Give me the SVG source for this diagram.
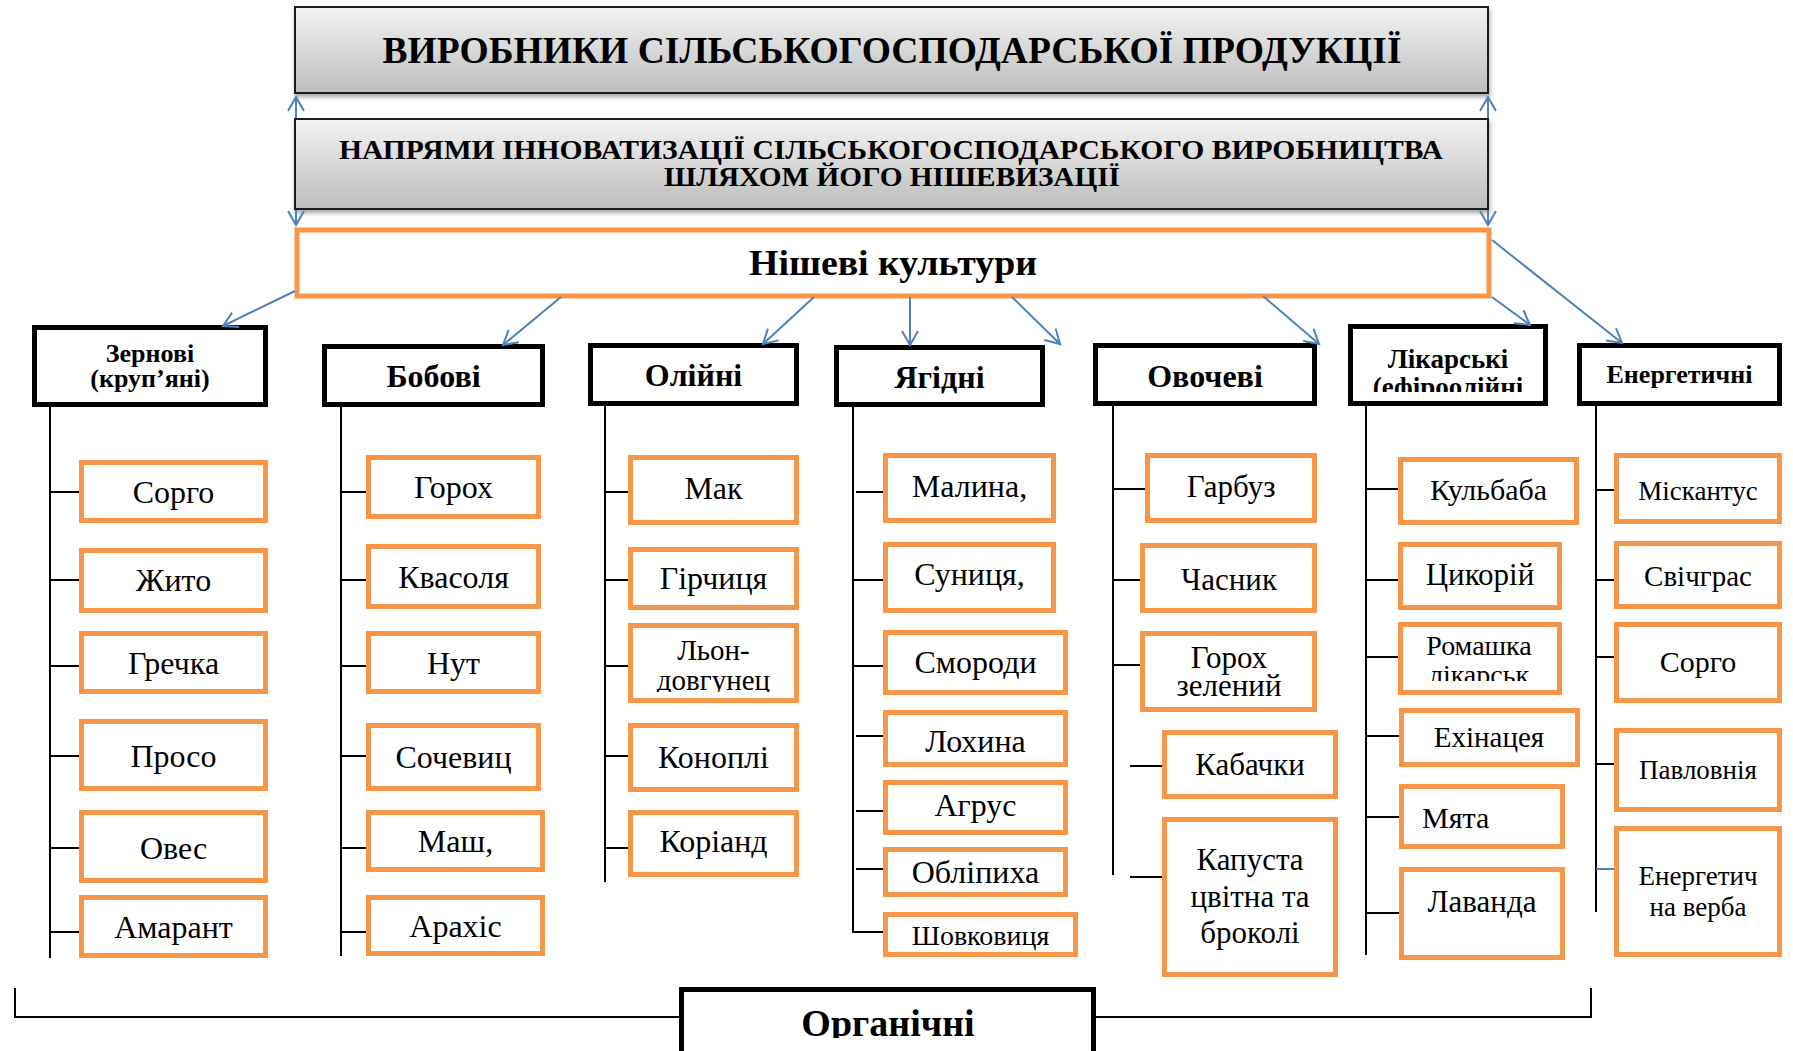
<svg xmlns="http://www.w3.org/2000/svg" width="1793" height="1051" viewBox="0 0 1793 1051">
<style>
text{font-family:"Liberation Serif","Times New Roman",serif;fill:#000;text-anchor:middle}
.b{font-weight:bold}
.gray{fill:url(#gg);stroke:#1a1a1a;stroke-width:2;filter:url(#sh)}
.nish{fill:#fff;stroke:#f79646;stroke-width:5}
.cat{fill:#fff;stroke:#000;stroke-width:5}
.item{fill:#fff;stroke:#f79646;stroke-width:5}
.ln{stroke:#000;stroke-width:2;fill:none}
.blu{stroke:#4f81bd;stroke-width:2;fill:none}
.arr{stroke:#4f81bd;stroke-width:2;fill:none;marker-end:url(#ah)}
.i32{font-size:32px}
.i31{font-size:31px}
.i30{font-size:30px}
.i29{font-size:29px}
.i28{font-size:28px}
.i27{font-size:27px}
</style>
<defs>
<linearGradient id="gg" x1="0" y1="0" x2="0" y2="1">
<stop offset="0" stop-color="#f3f3f3"/>
<stop offset="1" stop-color="#bdbdbd"/>
</linearGradient>
<filter id="sh" x="-5%" y="-20%" width="110%" height="150%">
<feDropShadow dx="1" dy="3" stdDeviation="2" flood-color="#000" flood-opacity="0.35"/>
</filter>
<marker id="ah" markerUnits="userSpaceOnUse" markerWidth="20" markerHeight="20" refX="15" refY="9" orient="auto">
<path d="M1,1 L15,9 L1,17" fill="none" stroke="#4f81bd" stroke-width="2"/>
</marker>
<clipPath id="cLik"><rect x="1350" y="326" width="196" height="66"/></clipPath>
<clipPath id="cLon"><rect x="630" y="625" width="168" height="67"/></clipPath>
<clipPath id="cRom"><rect x="1400" y="624" width="160" height="57"/></clipPath>
<clipPath id="cOrg"><rect x="684" y="990" width="408" height="48"/></clipPath>
</defs>

<g id="producers">
<rect class="gray" x="295" y="7" width="1193" height="86"/>
<text class="b" x="892" y="63" font-size="38" textLength="1019" lengthAdjust="spacingAndGlyphs">ВИРОБНИКИ СІЛЬСЬКОГОСПОДАРСЬКОЇ ПРОДУКЦІЇ</text>
</g>
<g id="directions">
<rect class="gray" x="295" y="119" width="1193" height="90"/>
<text class="b" x="891" y="159" font-size="28" textLength="1104" lengthAdjust="spacingAndGlyphs">НАПРЯМИ ІННОВАТИЗАЦІЇ СІЛЬСЬКОГОСПОДАРСЬКОГО ВИРОБНИЦТВА</text>
<text class="b" x="892" y="186" font-size="28" textLength="456" lengthAdjust="spacingAndGlyphs">ШЛЯХОМ ЙОГО НІШЕВИЗАЦІЇ</text>
</g>
<g id="niche">
<rect class="nish" x="297" y="230" width="1192" height="66"/>
<text class="b" x="893" y="275" font-size="35" textLength="288" lengthAdjust="spacingAndGlyphs">Нішеві культури</text>
</g>

<g id="cat-grain">
<rect class="cat" x="34.5" y="327.5" width="231" height="77"/>
<text class="b" x="150" y="362" font-size="26">Зернові</text>
<text class="b" x="150" y="387" font-size="26">(круп’яні)</text>
</g>
<g id="cat-legume">
<rect class="cat" x="324.5" y="346.5" width="218" height="58"/>
<text class="b" x="433.5" y="387" font-size="32">Бобові</text>
</g>
<g id="cat-oil">
<rect class="cat" x="590.5" y="345.5" width="206" height="58"/>
<text class="b" x="693.5" y="386" font-size="32">Олійні</text>
</g>
<g id="cat-berry">
<rect class="cat" x="836.5" y="347.5" width="206" height="57"/>
<text class="b" x="939.5" y="388" font-size="32">Ягідні</text>
</g>
<g id="cat-veg">
<rect class="cat" x="1095.5" y="345.5" width="219" height="58"/>
<text class="b" x="1205" y="387" font-size="32">Овочеві</text>
</g>
<g id="cat-med">
<rect class="cat" x="1350.5" y="326.5" width="195" height="77"/>
<g clip-path="url(#cLik)">
<text class="b" x="1448" y="368" font-size="27">Лікарські</text>
<text class="b" x="1448" y="396" font-size="27">(ефіроолійні</text>
</g>
</g>
<g id="cat-energy">
<rect class="cat" x="1579.5" y="345.5" width="200" height="58"/>
<text class="b" x="1679.5" y="383" font-size="26">Енергетичні</text>
</g>

<g id="connectors">
<line class="arr" x1="296" y1="118" x2="296" y2="97"/>
<line class="arr" x1="1488" y1="118" x2="1488" y2="97"/>
<line class="arr" x1="296" y1="210" x2="296" y2="225"/>
<line class="arr" x1="1488" y1="210" x2="1488" y2="225"/>
<line class="arr" x1="295" y1="291" x2="223" y2="326"/>
<line class="arr" x1="561" y1="297" x2="503" y2="345"/>
<line class="arr" x1="814" y1="297" x2="763" y2="344"/>
<line class="arr" x1="910" y1="297" x2="910" y2="345"/>
<line class="arr" x1="1012" y1="297" x2="1060" y2="344"/>
<line class="arr" x1="1263" y1="296" x2="1319" y2="344"/>
<line class="arr" x1="1492" y1="297" x2="1530" y2="325"/>
<line class="arr" x1="1492" y1="240" x2="1622" y2="343"/>

<path class="ln" d="M50,407V958M50,492H79M50,580H79M50,666H79M50,756H79M50,848H79M50,932H79"/>
<path class="ln" d="M341,407V956M341,492H366M341,580H366M341,666H366M341,756H366M341,848H366M341,932H366"/>
<path class="ln" d="M605,406V882M605,492H629M605,580H629M605,666H629M605,756H629M605,848H629"/>
<path class="ln" d="M853,407V932H883M856,492H883M853,580H883M853,666H883M856,736H883M856,811H883M856,869H883"/>
<path class="ln" d="M1113,406V875M1113,489H1145M1113,580H1141M1113,665H1141M1130,766H1162M1130,877H1162"/>
<path class="ln" d="M1366,406V955M1366,489H1399M1366,580H1399M1366,657H1399M1366,736H1399M1366,817H1399M1366,913H1399"/>
<path class="ln" d="M1596,406V912M1596,490H1614M1596,580H1614M1596,657H1614M1596,764H1614"/>
<path class="blu" d="M1596,869H1614"/>
<path class="ln" d="M15,988V1017H681M1096,1017H1591V988"/>
</g>

<g id="grain-items">
<g id="i-sorgo1"><rect class="item" x="81.5" y="462.5" width="184" height="58"/><text class="i32" x="173.5" y="503">Сорго</text></g>
<g id="i-zhyto"><rect class="item" x="81.5" y="550.5" width="184" height="60"/><text class="i32" x="173.5" y="591">Жито</text></g>
<g id="i-grechka"><rect class="item" x="81.5" y="633.5" width="184" height="58"/><text class="i32" x="173.5" y="674">Гречка</text></g>
<g id="i-proso"><rect class="item" x="81.5" y="721.5" width="184" height="67"/><text class="i32" x="173.5" y="767">Просо</text></g>
<g id="i-oves"><rect class="item" x="81.5" y="812.5" width="184" height="68"/><text class="i32" x="173.5" y="859">Овес</text></g>
<g id="i-amarant"><rect class="item" x="81.5" y="897.5" width="184" height="58"/><text class="i32" x="173.5" y="938">Амарант</text></g>
</g>

<g id="legume-items">
<g id="i-gorokh"><rect class="item" x="368.5" y="457.5" width="170" height="59"/><text class="i32" x="453.5" y="498">Горох</text></g>
<g id="i-kvasolia"><rect class="item" x="368.5" y="546.5" width="170" height="60"/><text class="i32" x="453.5" y="588">Квасоля</text></g>
<g id="i-nut"><rect class="item" x="368.5" y="633.5" width="170" height="58"/><text class="i32" x="453.5" y="674">Нут</text></g>
<g id="i-sochevyts"><rect class="item" x="368.5" y="725.5" width="170" height="63"/><text class="i32" x="453.5" y="768">Сочевиц</text></g>
<g id="i-mash"><rect class="item" x="368.5" y="812.5" width="174" height="57"/><text class="i32" x="455.5" y="852">Маш,</text></g>
<g id="i-arakhis"><rect class="item" x="368.5" y="897.5" width="174" height="56"/><text class="i32" x="455.5" y="937">Арахіс</text></g>
</g>

<g id="oil-items">
<g id="i-mak"><rect class="item" x="630.5" y="457.5" width="166" height="65"/><text class="i32" x="713.5" y="499">Мак</text></g>
<g id="i-hirchytsia"><rect class="item" x="630.5" y="549.5" width="166" height="58"/><text class="i32" x="713.5" y="589">Гірчиця</text></g>
<g id="i-lon"><rect class="item" x="630.5" y="625.5" width="166" height="75"/>
<g clip-path="url(#cLon)"><text class="i29" x="713.5" y="660">Льон-</text><text class="i29" x="713.5" y="690">довгунец</text></g></g>
<g id="i-konopli"><rect class="item" x="630.5" y="725.5" width="166" height="64"/><text class="i32" x="713.5" y="768">Коноплі</text></g>
<g id="i-koriand"><rect class="item" x="630.5" y="812.5" width="166" height="62"/><text class="i32" x="713.5" y="852">Коріанд</text></g>
</g>

<g id="berry-items">
<g id="i-malyna"><rect class="item" x="885.5" y="455.5" width="168" height="65"/><text class="i32" x="969.5" y="497">Малина,</text></g>
<g id="i-sunytsia"><rect class="item" x="885.5" y="544.5" width="168" height="66"/><text class="i32" x="969.5" y="585">Суниця,</text></g>
<g id="i-smorody"><rect class="item" x="885.5" y="632.5" width="180" height="60"/><text class="i32" x="975.5" y="673">Смороди</text></g>
<g id="i-lokhyna"><rect class="item" x="885.5" y="712.5" width="180" height="52"/><text class="i32" x="975.5" y="752">Лохина</text></g>
<g id="i-agrus"><rect class="item" x="885.5" y="782.5" width="180" height="50"/><text class="i32" x="975.5" y="816">Агрус</text></g>
<g id="i-oblipykha"><rect class="item" x="885.5" y="849.5" width="180" height="45"/><text class="i32" x="975.5" y="883">Обліпиха</text></g>
<g id="i-shovkovytsia"><rect class="item" x="885.5" y="914.5" width="190" height="40"/><text class="i28" x="980.5" y="945">Шовковиця</text></g>
</g>

<g id="veg-items">
<g id="i-harbuz"><rect class="item" x="1147.5" y="455.5" width="167" height="65"/><text class="i31" x="1231" y="497">Гарбуз</text></g>
<g id="i-chasnyk"><rect class="item" x="1142.5" y="545.5" width="172" height="65"/><text class="i31" x="1229" y="590">Часник</text></g>
<g id="i-gorokh-zel"><rect class="item" x="1142.5" y="633.5" width="172" height="76"/><text class="i31" x="1229" y="668">Горох</text><text class="i31" x="1229" y="696">зелений</text></g>
<g id="i-kabachky"><rect class="item" x="1164.5" y="732.5" width="171" height="64"/><text class="i31" x="1250" y="775">Кабачки</text></g>
<g id="i-kapusta"><rect class="item" x="1164.5" y="819.5" width="171" height="155"/><text class="i31" x="1250" y="870">Капуста</text><text class="i31" x="1250" y="907">цвітна та</text><text class="i31" x="1250" y="943">броколі</text></g>
</g>

<g id="med-items">
<g id="i-kulbaba"><rect class="item" x="1400.5" y="459.5" width="176" height="63"/><text class="i30" x="1488.5" y="500">Кульбаба</text></g>
<g id="i-tsykorii"><rect class="item" x="1400.5" y="544.5" width="159" height="63"/><text class="i31" x="1480" y="585">Цикорій</text></g>
<g id="i-romashka"><rect class="item" x="1400.5" y="624.5" width="159" height="68"/>
<g clip-path="url(#cRom)"><text class="i28" x="1479" y="655">Ромашка</text><text class="i28" x="1479" y="684">лікарськ</text></g></g>
<g id="i-ekhinatseia"><rect class="item" x="1401.5" y="710.5" width="176" height="54"/><text class="i29" x="1489" y="747">Ехінацея</text></g>
<g id="i-miata"><rect class="item" x="1401.5" y="786.5" width="161" height="60"/><text class="i30" x="1422" y="828" text-anchor="start" style="text-anchor:start">Мята</text></g>
<g id="i-lavanda"><rect class="item" x="1401.5" y="869.5" width="161" height="88"/><text class="i31" x="1482" y="912">Лаванда</text></g>
</g>

<g id="energy-items">
<g id="i-miskantus"><rect class="item" x="1616.5" y="455.5" width="163" height="66"/><text class="i27" x="1698" y="500">Міскантус</text></g>
<g id="i-svichgras"><rect class="item" x="1616.5" y="543.5" width="163" height="63"/><text class="i29" x="1698" y="586">Свічграс</text></g>
<g id="i-sorgo2"><rect class="item" x="1616.5" y="624.5" width="163" height="76"/><text class="i30" x="1698" y="672">Сорго</text></g>
<g id="i-pavlovnia"><rect class="item" x="1616.5" y="730.5" width="163" height="79"/><text class="i27" x="1698" y="779">Павловнія</text></g>
<g id="i-verba"><rect class="item" x="1616.5" y="828.5" width="163" height="126"/><text class="i27" x="1698" y="885">Енергетич</text><text class="i27" x="1698" y="916">на верба</text></g>
</g>

<g id="organic">
<rect class="cat" x="681.5" y="989.5" width="412" height="90"/>
<g clip-path="url(#cOrg)"><text class="b" x="888" y="1036" font-size="38">Органічні</text></g>
</g>
</svg>
